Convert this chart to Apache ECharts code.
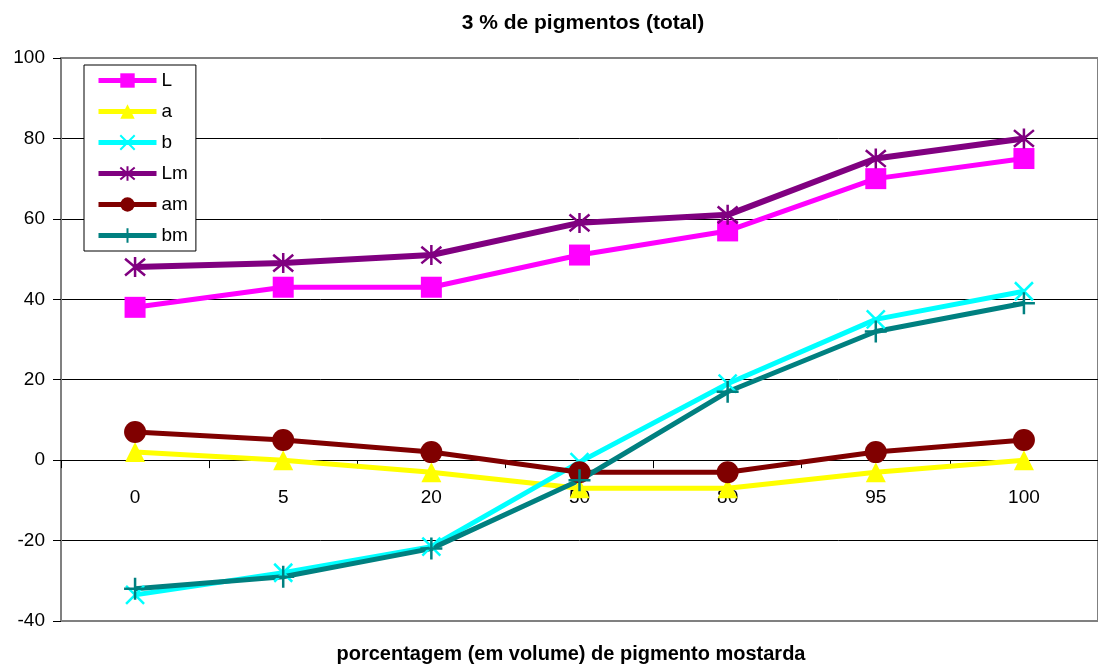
<!DOCTYPE html>
<html>
<head>
<meta charset="utf-8">
<script src="https://cdn.jsdelivr.net/npm/echarts@6/dist/echarts.min.js"></script>
<style>
html,body{margin:0;padding:0;background:#fff;}
#chart{width:1098px;height:664px;}
</style>
</head>
<body>
<div id="chart"></div>
<script>
const categories = ['0', '5', '20', '50', '80', '95', '100'];
const L  = [38, 43, 43, 51, 57, 70, 75];
const a  = [2, 0, -3, -7, -7, -3, 0];
const b  = [-33.5, -28, -21.5, -0.5, 19, 35, 42];
const Lm = [48, 49, 51, 59, 61, 75, 80];
const am = [7, 5, 2, -3, -3, 2, 5];
const bm = [-32, -29, -22, -5, 17, 32, 39];
const yTicks = { min: -40, max: 100, interval: 20 };

const FONT = '"Liberation Sans", Arial, sans-serif';
const X_PATH = 'path://M0,0L10,10M10,0L0,10';
const STAR_PATH = 'path://M0,0L10,10M10,0L0,10M5,-1L5,11';
const PLUS_PATH = 'path://M5,0L5,10M0,5L10,5';

const GRID = { left: 61, right: -6, top: 58, bottom: 43 };
const plotH = 664 - GRID.top - GRID.bottom;
// put the category axis on the y = 0 line
const zeroOffset = -plotH * (0 - yTicks.min) / (yTicks.max - yTicks.min);

function lineSeries(name, data, color, symbol, size, stroke, width) {
  return {
    name, type: 'line', data,
    symbol, symbolSize: size,
    lineStyle: { color, width: width || 5 },
    itemStyle: stroke ? { color: 'rgba(0,0,0,0)', borderColor: color, borderWidth: 2.5 } : { color },
    emphasis: { disabled: true },
    animation: false
  };
}

const chart = echarts.init(document.getElementById('chart'), null, { renderer: 'canvas' });
chart.setOption({
  backgroundColor: '#fff',
  animation: false,
  title: [
    { text: '3 % de pigmentos (total)', left: 578, top: 8, textAlign: 'center',
      textStyle: { fontFamily: FONT, fontSize: 21, fontWeight: 'bold', color: '#000' } },
    { text: 'porcentagem (em volume) de pigmento mostarda', left: 566, top: 639, textAlign: 'center',
      textStyle: { fontFamily: FONT, fontSize: 20, fontWeight: 'bold', color: '#000' } }
  ],
  grid: Object.assign({ show: true, borderColor: '#808080', borderWidth: 2, backgroundColor: '#fff' }, GRID),
  legend: {
    orient: 'vertical', left: 84, top: 65,
    backgroundColor: '#fff', borderColor: '#000', borderWidth: 1, borderRadius: 0,
    padding: [6, 8, 6, 12],
    itemWidth: 58, itemHeight: 18, itemGap: 12,
    lineStyle: { width: 5 },
    textStyle: { fontFamily: FONT, fontSize: 19, color: '#000', lineHeight: 18, padding: [0, 0, 0, 0] },
    data: ['L', 'a', 'b', 'Lm', 'am', 'bm']
  },
  xAxis: {
    type: 'category', data: categories, boundaryGap: true, position: 'bottom',
    offset: zeroOffset,
    axisLine: { onZero: false, lineStyle: { color: '#000', width: 1 } },
    axisTick: { show: true, interval: 0, alignWithLabel: false, length: 8, inside: false, lineStyle: { color: '#000' } },
    axisLabel: { fontFamily: FONT, fontSize: 19, color: '#000', margin: 28, interval: 0 },
    splitLine: { show: false }
  },
  yAxis: {
    type: 'value', min: yTicks.min, max: yTicks.max, interval: yTicks.interval,
    axisLine: { show: true, lineStyle: { color: '#808080', width: 2 } },
    axisTick: { show: true, length: 8, lineStyle: { color: '#000' } },
    axisLabel: { fontFamily: FONT, fontSize: 19, color: '#000', margin: 16 },
    splitLine: { show: true, showMinLine: false, showMaxLine: false, lineStyle: { color: '#000', width: 1 } }
  },
  series: [
    lineSeries('L', L, '#FF00FF', 'rect', 21, false, 5),
    lineSeries('a', a, '#FFFF00', 'triangle', 20, false, 5),
    lineSeries('b', b, '#00FFFF', X_PATH, 18, true, 5),
    lineSeries('Lm', Lm, '#800080', STAR_PATH, 20, true, 6),
    lineSeries('am', am, '#800000', 'circle', 22, false, 5),
    lineSeries('bm', bm, '#008080', PLUS_PATH, 22, true, 5)
  ]
});
</script>
</body>
</html>
